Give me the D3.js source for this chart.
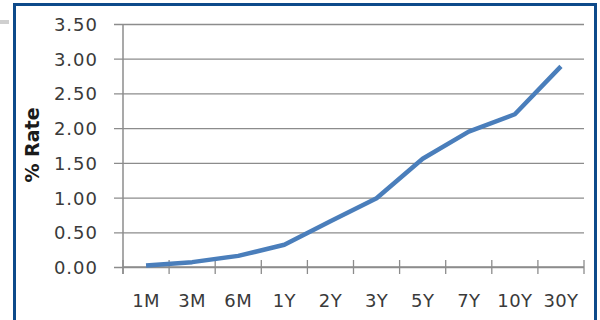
<!DOCTYPE html>
<html>
<head>
<meta charset="utf-8">
<script src="https://cdn.jsdelivr.net/npm/d3@7/dist/d3.min.js"></script>
<style>
  html, body { margin:0; padding:0; background:#fff; overflow:hidden; }
  svg { display:block; }
  svg text { font-family:"DejaVu Sans", Verdana, sans-serif; }
</style>
</head>
<body>
<svg id="chart" width="600" height="320"></svg>
<script>
// tenors and yields (%)
const tenors = ["1M","3M","6M","1Y","2Y","3Y","5Y","7Y","10Y","30Y"];
const rates  = [0.02, 0.07, 0.16, 0.32, 0.66, 0.99, 1.56, 1.95, 2.20, 2.89];
const yTicks = [0, 0.5, 1, 1.5, 2, 2.5, 3, 3.5];

const svg = d3.select("#chart");

// outer frame
svg.append("rect").attr("x",0).attr("y",20).attr("width",9).attr("height",4).attr("fill","#cfcfcf");
svg.append("rect")
  .attr("x",14.5).attr("y",4.5).attr("width",581).attr("height",330)
  .attr("fill","#fff").attr("stroke","#0d4a8a").attr("stroke-width",3);

const x = d3.scaleBand().domain(tenors).range([123, 584]);
const y = d3.scaleLinear().domain([0, 3.5]).range([267, 24]);

// gridlines + y axis
const yAxis = svg.append("g").attr("transform","translate(123,0)")
  .call(d3.axisLeft(y).tickValues(yTicks).tickFormat(d3.format(".2f"))
        .tickSize(-(584-123)).tickPadding(0));
yAxis.select(".domain").remove();
yAxis.selectAll(".tick line").attr("stroke","#8c8c8c").attr("stroke-width",1.3).attr("x1",-9);
yAxis.selectAll(".tick text")
  .attr("x",-25).attr("dy","0.36em")
  .attr("fill","#3a3a3a").style("font-size","18px").style("letter-spacing","1px");

// vertical axis line
svg.append("line").attr("x1",123).attr("x2",123).attr("y1",y(3.5)).attr("y2",274)
  .attr("stroke","#8c8c8c").attr("stroke-width",1.5);

// x axis with ticks at band edges
const xAxis = svg.append("g").attr("transform","translate(0,267)")
  .call(d3.axisBottom(x).tickSize(0).tickPadding(0));
xAxis.select(".domain").remove();
xAxis.selectAll(".tick text")
  .attr("y",40).attr("dy",0)
  .attr("fill","#3a3a3a").style("font-size","18px").style("letter-spacing","0.4px");
svg.append("line").attr("x1",123).attr("x2",584).attr("y1",267).attr("y2",267)
  .attr("stroke","#8c8c8c").attr("stroke-width",1.3);
const edges = tenors.map(t => x(t)).concat([x.range()[1]]);
svg.append("g").selectAll("line").data(edges).join("line")
  .attr("x1",d=>d).attr("x2",d=>d).attr("y1",260).attr("y2",274)
  .attr("stroke","#8c8c8c").attr("stroke-width",1.3);

// yield curve
const line = d3.line()
  .x((d,i) => x(tenors[i]) + x.bandwidth()/2)
  .y(d => y(d));
svg.append("path").datum(rates)
  .attr("d", line)
  .attr("fill","none").attr("stroke","#4a7ebb").attr("stroke-width",4.5)
  .attr("stroke-linejoin","round").attr("stroke-linecap","butt");

// axis title
svg.append("text")
  .attr("transform","translate(39,145) rotate(-90)")
  .attr("text-anchor","middle")
  .attr("fill","#1a1a1a").style("font-size","19px").style("font-weight","bold")
  .text("% Rate");
</script>
</body>
</html>
